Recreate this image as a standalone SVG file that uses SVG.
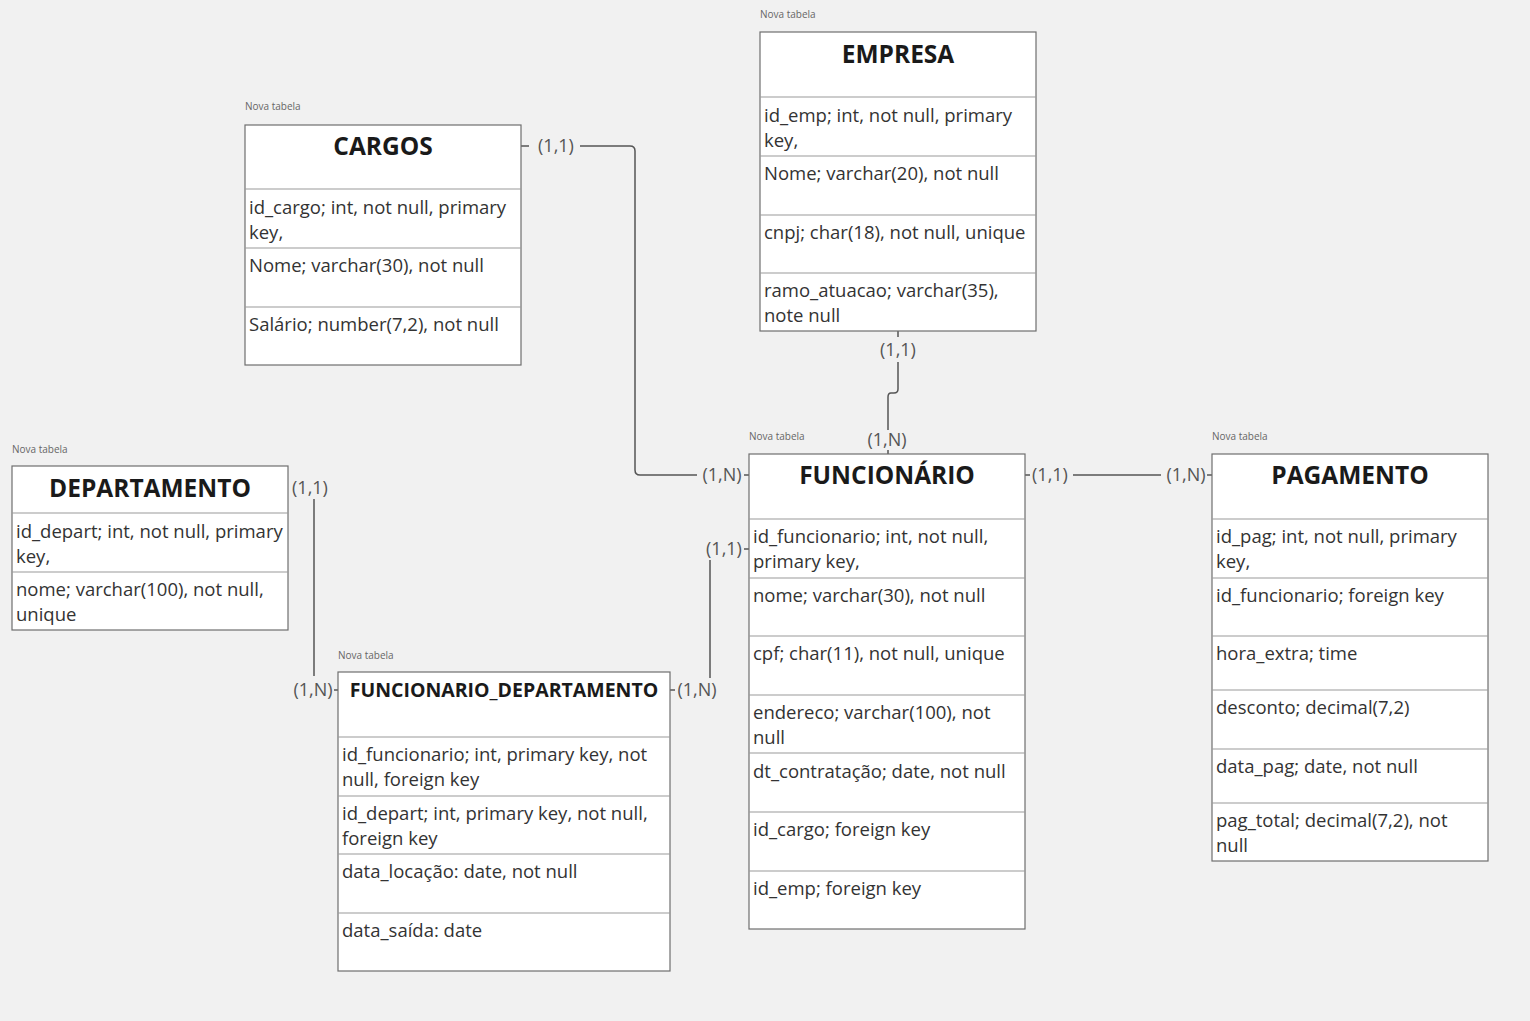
<svg xmlns="http://www.w3.org/2000/svg" width="1530" height="1021" viewBox="0 0 1530 1021">
<style>
.bg{fill:#f1f1f1}
.box{fill:#ffffff;stroke:#6e6e6e;stroke-width:1.2}
.div{stroke:#9a9a9a;stroke-width:1.2}
.cap{font-family:"Open Sans","Liberation Sans",sans-serif;font-size:10px;fill:#666}
.ttl{font-family:"Open Sans","Liberation Sans",sans-serif;font-size:24.5px;font-weight:700;fill:#1a1a1a;text-anchor:middle}
.ttl2{font-family:"Open Sans","Liberation Sans",sans-serif;font-size:19.5px;font-weight:700;fill:#1a1a1a;text-anchor:middle}
.row{font-family:"Open Sans","Liberation Sans",sans-serif;font-size:18.5px;fill:#333}
.lbl{font-family:"Open Sans","Liberation Sans",sans-serif;font-size:18px;fill:#555;text-anchor:middle}
.con{fill:none;stroke:#555;stroke-width:1.5}
</style>
<rect class="bg" x="0" y="0" width="1530" height="1021"/>

<g id="connectors">
  <!-- CARGOS - FUNCIONARIO -->
  <path class="con" d="M521 146 H529"/>
  <path class="con" d="M580 146 H630 Q635 146 635 151 V470 Q635 475 640 475 H697"/>
  <path class="con" d="M744 475 H749"/>
  <text class="lbl" x="556" y="152">(1,1)</text>
  <text class="lbl" x="722" y="481">(1,N)</text>
  <!-- EMPRESA - FUNCIONARIO -->
  <path class="con" d="M898 331 V337"/>
  <path class="con" d="M898 362 V389 Q898 393 894 393 H891 Q888 393 888 397 V430"/>
  <path class="con" d="M888 450 V454"/>
  <text class="lbl" x="898" y="356">(1,1)</text>
  <text class="lbl" x="887" y="446">(1,N)</text>
  <!-- FUNCIONARIO - PAGAMENTO -->
  <path class="con" d="M1025 475 H1030"/>
  <path class="con" d="M1073 475 H1161"/>
  <path class="con" d="M1207 475 H1212"/>
  <text class="lbl" x="1050" y="481">(1,1)</text>
  <text class="lbl" x="1186" y="481">(1,N)</text>
  <!-- DEPARTAMENTO - FUNCIONARIO_DEPARTAMENTO -->
  <path class="con" d="M314 499 V676"/>
  <path class="con" d="M334 690 H338"/>
  <text class="lbl" x="310" y="494">(1,1)</text>
  <text class="lbl" x="313" y="696">(1,N)</text>
  <!-- FUNCIONARIO_DEPARTAMENTO - FUNCIONARIO -->
  <path class="con" d="M670 690 H675"/>
  <path class="con" d="M710 678 V560"/>
  <path class="con" d="M744 549 H749"/>
  <text class="lbl" x="697" y="696">(1,N)</text>
  <text class="lbl" x="724" y="555">(1,1)</text>
</g>

<g id="cargos">
  <text class="cap" x="245" y="110">Nova tabela</text>
  <rect class="box" x="245" y="125" width="276" height="240"/>
  <line class="div" x1="245" y1="189" x2="521" y2="189"/>
  <line class="div" x1="245" y1="248" x2="521" y2="248"/>
  <line class="div" x1="245" y1="307" x2="521" y2="307"/>
  <text class="ttl" x="383" y="155">CARGOS</text>
  <text class="row" x="249" y="214">id_cargo; int, not null, primary</text>
  <text class="row" x="249" y="239">key,</text>
  <text class="row" x="249" y="272">Nome; varchar(30), not null</text>
  <text class="row" x="249" y="331">Salário; number(7,2), not null</text>
</g>

<g id="empresa">
  <text class="cap" x="760" y="18">Nova tabela</text>
  <rect class="box" x="760" y="32" width="276" height="299"/>
  <line class="div" x1="760" y1="97" x2="1036" y2="97"/>
  <line class="div" x1="760" y1="156" x2="1036" y2="156"/>
  <line class="div" x1="760" y1="215" x2="1036" y2="215"/>
  <line class="div" x1="760" y1="273" x2="1036" y2="273"/>
  <text class="ttl" x="898" y="63">EMPRESA</text>
  <text class="row" x="764" y="122">id_emp; int, not null, primary</text>
  <text class="row" x="764" y="147">key,</text>
  <text class="row" x="764" y="180">Nome; varchar(20), not null</text>
  <text class="row" x="764" y="239">cnpj; char(18), not null, unique</text>
  <text class="row" x="764" y="297">ramo_atuacao; varchar(35),</text>
  <text class="row" x="764" y="322">note null</text>
</g>

<g id="departamento">
  <text class="cap" x="12" y="453">Nova tabela</text>
  <rect class="box" x="12" y="466" width="276" height="164"/>
  <line class="div" x1="12" y1="513" x2="288" y2="513"/>
  <line class="div" x1="12" y1="572" x2="288" y2="572"/>
  <text class="ttl" x="150" y="497">DEPARTAMENTO</text>
  <text class="row" x="16" y="538">id_depart; int, not null, primary</text>
  <text class="row" x="16" y="563">key,</text>
  <text class="row" x="16" y="596">nome; varchar(100), not null,</text>
  <text class="row" x="16" y="621">unique</text>
</g>

<g id="funcionario_departamento">
  <text class="cap" x="338" y="659">Nova tabela</text>
  <rect class="box" x="338" y="672" width="332" height="299"/>
  <line class="div" x1="338" y1="737" x2="670" y2="737"/>
  <line class="div" x1="338" y1="796" x2="670" y2="796"/>
  <line class="div" x1="338" y1="854" x2="670" y2="854"/>
  <line class="div" x1="338" y1="913" x2="670" y2="913"/>
  <text class="ttl2" x="504" y="697">FUNCIONARIO_DEPARTAMENTO</text>
  <text class="row" x="342" y="761">id_funcionario; int, primary key, not</text>
  <text class="row" x="342" y="786">null, foreign key</text>
  <text class="row" x="342" y="820">id_depart; int, primary key, not null,</text>
  <text class="row" x="342" y="845">foreign key</text>
  <text class="row" x="342" y="878">data_locação: date, not null</text>
  <text class="row" x="342" y="937">data_saída: date</text>
</g>

<g id="funcionario">
  <text class="cap" x="749" y="440">Nova tabela</text>
  <rect class="box" x="749" y="454" width="276" height="475"/>
  <line class="div" x1="749" y1="519" x2="1025" y2="519"/>
  <line class="div" x1="749" y1="578" x2="1025" y2="578"/>
  <line class="div" x1="749" y1="636" x2="1025" y2="636"/>
  <line class="div" x1="749" y1="695" x2="1025" y2="695"/>
  <line class="div" x1="749" y1="753" x2="1025" y2="753"/>
  <line class="div" x1="749" y1="812" x2="1025" y2="812"/>
  <line class="div" x1="749" y1="871" x2="1025" y2="871"/>
  <text class="ttl" x="887" y="484">FUNCIONÁRIO</text>
  <text class="row" x="753" y="543">id_funcionario; int, not null,</text>
  <text class="row" x="753" y="568">primary key,</text>
  <text class="row" x="753" y="602">nome; varchar(30), not null</text>
  <text class="row" x="753" y="660">cpf; char(11), not null, unique</text>
  <text class="row" x="753" y="719">endereco; varchar(100), not</text>
  <text class="row" x="753" y="744">null</text>
  <text class="row" x="753" y="778">dt_contratação; date, not null</text>
  <text class="row" x="753" y="836">id_cargo; foreign key</text>
  <text class="row" x="753" y="895">id_emp; foreign key</text>
</g>

<g id="pagamento">
  <text class="cap" x="1212" y="440">Nova tabela</text>
  <rect class="box" x="1212" y="454" width="276" height="407"/>
  <line class="div" x1="1212" y1="519" x2="1488" y2="519"/>
  <line class="div" x1="1212" y1="578" x2="1488" y2="578"/>
  <line class="div" x1="1212" y1="636" x2="1488" y2="636"/>
  <line class="div" x1="1212" y1="690" x2="1488" y2="690"/>
  <line class="div" x1="1212" y1="749" x2="1488" y2="749"/>
  <line class="div" x1="1212" y1="803" x2="1488" y2="803"/>
  <text class="ttl" x="1350" y="484">PAGAMENTO</text>
  <text class="row" x="1216" y="543">id_pag; int, not null, primary</text>
  <text class="row" x="1216" y="568">key,</text>
  <text class="row" x="1216" y="602">id_funcionario; foreign key</text>
  <text class="row" x="1216" y="660">hora_extra; time</text>
  <text class="row" x="1216" y="714">desconto; decimal(7,2)</text>
  <text class="row" x="1216" y="773">data_pag; date, not null</text>
  <text class="row" x="1216" y="827">pag_total; decimal(7,2), not</text>
  <text class="row" x="1216" y="852">null</text>
</g>
</svg>
